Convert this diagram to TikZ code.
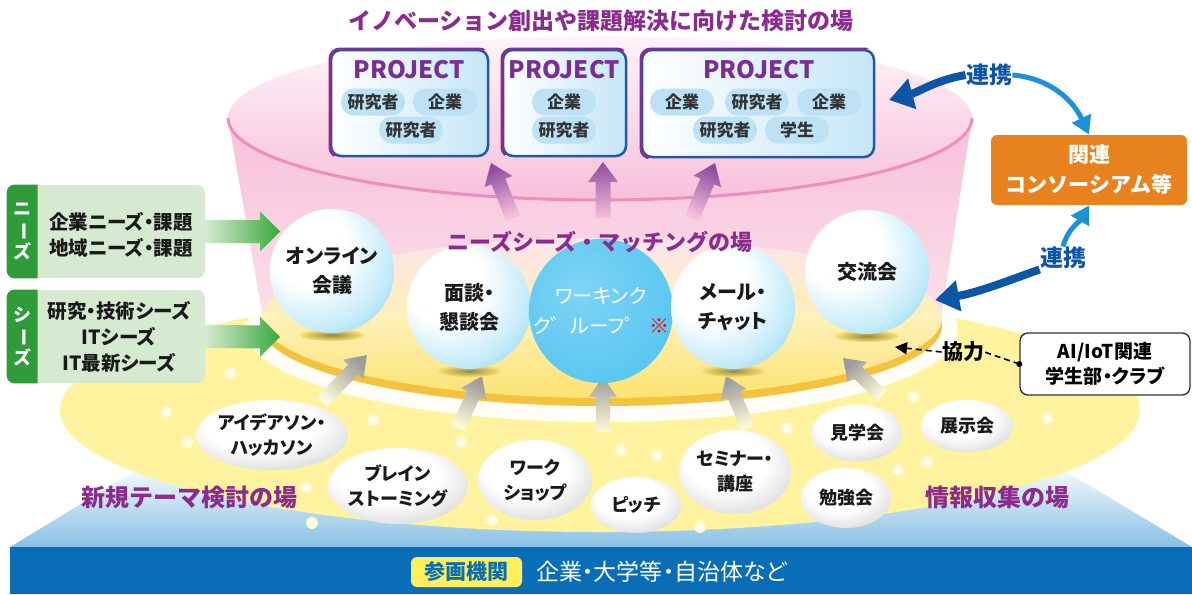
\documentclass[tikz,border=0pt]{standalone}
\usepackage{fontspec}
\usepackage{graphicx}
\setmainfont{Noto Sans CJK JP}
\newfontfamily\jpp{Noto Sans CJK JP}[RawFeature=+palt]
\usetikzlibrary{calc,arrows.meta,shapes.geometric}

\definecolor{ttlpurple}{HTML}{8A2B8D}
\definecolor{projpurple}{HTML}{8E2A8E}
\definecolor{projblue}{HTML}{1F5AA6}
\definecolor{projfill}{HTML}{C6E6F8}
\definecolor{projtxt}{HTML}{7A2E95}
\definecolor{pillfill}{HTML}{BDE2F6}
\definecolor{txtgray}{HTML}{333333}
\definecolor{pinkA}{HTML}{F7C0DA}
\definecolor{pinkTop}{HTML}{FFF4F9}
\definecolor{coneB}{HTML}{FBE0EA}
\definecolor{pinkrim}{HTML}{EE8EBD}
\definecolor{diskrim}{HTML}{F3C33E}
\definecolor{diskA}{HTML}{FBE4EC}
\definecolor{diskB}{HTML}{FDE372}
\definecolor{glowY}{HTML}{FFF3A0}
\definecolor{glowY2}{HTML}{FFFAD6}
\definecolor{ballmid}{HTML}{C4EBFA}
\definecolor{ballrim}{HTML}{4FC1EE}
\definecolor{balldeep}{HTML}{36B3EA}
\definecolor{wgblue}{HTML}{5BC7F1}
\definecolor{wglight}{HTML}{7FD4F5}
\definecolor{bubgrayA}{HTML}{D4D4D4}
\definecolor{bubgrayB}{HTML}{A2A2A2}
\definecolor{greenD}{HTML}{2F9B3B}
\definecolor{greenL}{HTML}{D5EAD0}
\definecolor{greenA}{HTML}{38A83A}
\definecolor{orangeC}{HTML}{E8821E}
\definecolor{blueD}{HTML}{0D55A6}
\definecolor{blueL}{HTML}{1B92D8}
\definecolor{bandblue}{HTML}{0A6DB8}
\definecolor{platblue}{HTML}{88C0E4}
\definecolor{labelY}{HTML}{FFEF5C}
\definecolor{arrowpurple}{HTML}{8E4B9F}
\definecolor{arrowgray}{HTML}{9C9C9C}

\pgfdeclareradialshading{sphereshade}{\pgfpoint{-13bp}{13bp}}{color(0bp)=(white); color(16bp)=(white); color(31bp)=(ballmid); color(48bp)=(ballrim); color(64bp)=(balldeep); color(70bp)=(balldeep)}
\pgfdeclareradialshading{bubbleshade}{\pgfpoint{-5bp}{9bp}}{color(0bp)=(white); color(18bp)=(white); color(36bp)=(bubgrayA); color(54bp)=(bubgrayB); color(70bp)=(bubgrayB)}
\pgfdeclareradialshading{wgshade}{\pgfpoint{-8bp}{8bp}}{color(0bp)=(wglight); color(30bp)=(wgblue); color(70bp)=(wgblue)}
\pgfdeclareradialshading{glowshade}{\pgfpoint{0bp}{0bp}}{color(0bp)=(glowY); color(36bp)=(glowY); color(50bp)=(glowY2)}

\newcommand{\blockarr}[8]{%
  \coordinate (bah) at ($(#2)!#7!(#1)$);
  \shade[top color=#3, bottom color=#4, shading angle=#8]
    ($(#1)!#5!90:(#2)$) -- ($(bah)!#5!-90:(#1)$) -- ($(bah)!#6!-90:(#1)$) -- (#2)
    -- ($(bah)!#6!90:(#1)$) -- ($(bah)!#5!90:(#1)$) -- ($(#1)!#5!-90:(#2)$) -- cycle;
}
\newcommand{\twotone}[1]{%
  \begin{scope}
    \clip ($(#1.north west)+(-8,-8)$) -- ($(#1.north east)+(8,-8)$) -- ($(#1.south west)+(-8,8)$) -- cycle;
    \draw[projpurple, line width=1.25pt, rounded corners=5pt] (#1.south west) rectangle (#1.north east);
  \end{scope}
}

\begin{document}
\begin{tikzpicture}[x=0.5pt,y=-0.5pt,
  every node/.style={inner sep=0pt},
  projbox/.style={draw=projblue, line width=1.25pt, rounded corners=5pt, left color=white, right color=projfill},
  projtitle/.style={text=projtxt, font=\bfseries\fontsize{12}{14}\selectfont},
  pill/.style={fill=pillfill, rounded corners=6.5pt, minimum width=32pt, minimum height=13.5pt, text=txtgray, font=\bfseries\fontsize{8.5}{10}\selectfont},
  ball/.style={circle, minimum size=62pt, shade, shading=sphereshade, align=center, text=black!90, font=\jpp\bfseries\fontsize{10}{14.5}\selectfont},
  bubble/.style={ellipse, shade, shading=bubbleshade, align=center, text=black!90, font=\jpp\bfseries\fontsize{9}{12.5}\selectfont},
  greenbox/.style={fill=greenL, rounded corners=4pt, minimum width=99pt, minimum height=46.5pt},
  greentxt/.style={align=center, text=black!90, font=\jpp\bfseries\fontsize{9.75}{13}\selectfont},
  tabtxt/.style={align=center, text=white, font=\bfseries\fontsize{9}{10}\selectfont},
  purplelabel/.style={text=ttlpurple, font=\bfseries\fontsize{12}{14}\selectfont},
  lianlabel/.style={text=blueD, font=\bfseries\fontsize{11.5}{13}\selectfont},
  shadowst/.style={inner color=black!40!diskB, outer color=diskB}
]
\useasboundingbox (0,0) rectangle (1192,594);

% platform and band
\shade[top color=white, bottom color=platblue] (10,547) -- (150,462) -- (1050,462) -- (1192,547) -- cycle;
\fill[bandblue] (10,547) rectangle (1192,594);

% big glow ellipse
\shade[shading=glowshade] (600,410) ellipse [x radius=540, y radius=122];

% sparkles
\foreach \p in {(166,412),(187,442),(373,420),(461,442),(306,487),(492,520),(312,523),(621,450),(657,455),(787,428),(913,397),(1047,418),(898,470),(927,462),(700,527),(230,373)}
  \shade[inner color=white, outer color=glowY!60!white] \p circle (6);

% white glow under disc
\fill[white, opacity=.9] (602,330) ellipse [x radius=356, y radius=92];

% pink cone
\shade[top color=pinkA, bottom color=coneB] (228,118) -- (263,318) -- (941,318) -- (972,118) -- cycle;
\shade[top color=pinkTop, bottom color=pinkA] (600,118) ellipse [x radius=372, y radius=82];
\draw[pinkrim, line width=1.5pt] (972,118) arc[start angle=0, end angle=180, x radius=372, y radius=82];

% title
\node[text=ttlpurple, font=\bfseries\fontsize{11.5}{14}\selectfont] (title) at (601,21) {イノベーション創出や課題解決に向けた検討の場};

% project boxes
\node[projbox, minimum width=78.5pt, minimum height=53pt] (p1) at (409.5,103) {};
\twotone{p1}
\node[projtitle] (p1t) at (409.5,70) {PROJECT};
\node[pill] (p1a) at (373,102) {研究者};
\node[pill] (p1b) at (445,102) {企業};
\node[pill] (p1c) at (411,130) {研究者};

\node[projbox, minimum width=61.5pt, minimum height=53pt] (p2) at (564.5,103) {};
\twotone{p2}
\node[projtitle] (p2t) at (564.5,70) {PROJECT};
\node[pill] (p2a) at (564,102) {企業};
\node[pill] (p2b) at (564,130) {研究者};

\node[projbox, minimum width=116pt, minimum height=53.5pt] (p3) at (758,103.5) {};
\twotone{p3}
\node[projtitle] (p3t) at (759,70) {PROJECT};
\node[pill] (p3a) at (682,102) {企業};
\node[pill] (p3b) at (757,102) {研究者};
\node[pill] (p3c) at (829,102) {企業};
\node[pill] (p3d) at (725,130) {研究者};
\node[pill] (p3e) at (797,130) {学生};

% purple arrows
\coordinate (pa1) at (513,218); \coordinate (pb1) at (491,163);
\coordinate (pa2) at (603,218); \coordinate (pb2) at (603,162);
\coordinate (pa3) at (692,218); \coordinate (pb3) at (715,163);
\blockarr{pa1}{pb1}{arrowpurple}{pinkA}{3.75pt}{7.5pt}{10pt}{24}
\blockarr{pa2}{pb2}{arrowpurple}{pinkA}{3.75pt}{7.5pt}{10pt}{0}
\blockarr{pa3}{pb3}{arrowpurple}{pinkA}{3.75pt}{7.5pt}{10pt}{-24}

% disc
\fill[diskrim] (602,326) ellipse [x radius=340, y radius=80];
\shade[top color=diskA, bottom color=diskB, middle color=diskB!50!white] (602,318) ellipse [x radius=340, y radius=80];

% gray arrows
\coordinate (g1a) at (322,402); \coordinate (g1b) at (367,355);
\coordinate (g2a) at (458,428); \coordinate (g2b) at (482,376);
\coordinate (g3a) at (603,432); \coordinate (g3b) at (603,377);
\coordinate (g4a) at (748,428); \coordinate (g4b) at (726,376);
\coordinate (g5a) at (882,396); \coordinate (g5b) at (843,358);
\blockarr{g1a}{g1b}{arrowgray}{glowY!40!white}{3.5pt}{7pt}{10pt}{-44}
\blockarr{g2a}{g2b}{arrowgray}{glowY!40!white}{3.5pt}{7pt}{10pt}{-24}
\blockarr{g3a}{g3b}{arrowgray}{glowY!40!white}{3.5pt}{7pt}{10pt}{0}
\blockarr{g4a}{g4b}{arrowgray}{glowY!40!white}{3.5pt}{7pt}{10pt}{22}
\blockarr{g5a}{g5b}{arrowgray}{glowY!40!white}{3.5pt}{7pt}{10pt}{46}

% bubbles
\node[bubble, minimum width=69pt, minimum height=35pt] (idea) at (272,435) {アイデアソン・\\ハッカソン};
\node[bubble, minimum width=69pt, minimum height=38pt] (brain) at (398,486) {ブレイン\\ストーミング};
\node[bubble, minimum width=57pt, minimum height=40pt] (work) at (535,480) {ワーク\\ショップ};
\node[bubble, minimum width=45pt, minimum height=28pt] (pitch) at (636,505) {ピッチ};
\node[bubble, minimum width=56pt, minimum height=42pt] (semi) at (735,472) {セミナー・\\講座};
\node[bubble, minimum width=45pt, minimum height=28.5pt] (kengaku) at (857,433) {見学会};
\node[bubble, minimum width=46pt, minimum height=26pt] (tenji) at (967,426) {展示会};
\node[bubble, minimum width=45pt, minimum height=30pt] (benkyo) at (846,498) {勉強会};

% ball shadows
\foreach \cx/\cy in {332/271, 469/307, 601/311, 733/307, 867/272}
  \shade[shadowst] (\cx,\cy+64) ellipse [x radius=32, y radius=6];

% balls
\node[ball] (online) at (332,271) {オンライン\\会議};
\node[ball] (mendan) at (469,307) {面談・\\懇談会};
\node[circle, minimum size=62pt, shade, shading=wgshade, align=center, text=white, font=\jpp\fontsize{10}{15}\selectfont] (wg) at (601,311) {ワーキンク\\ク゛ルーフ゜ {\color{red}※}};
\node[ball] (mail) at (733,307) {メール・\\チャット};
\node[ball] (koryu) at (867,272) {交流会};

\node[text=ttlpurple, font=\bfseries\fontsize{11}{13}\selectfont] (match) at (600,242) {ニーズシーズ・マッチングの場};

% green boxes
\node[greenbox] (needs) at (106,231.5) {};
\fill[greenD] ($(needs.north west)+(31,0)$) {[rounded corners=4pt] -- (needs.north west) -- (needs.south west)} -- ($(needs.south west)+(31,0)$) -- cycle;
\node[tabtxt] (needstab) at ($(needs.west)+(15.5,0)$) {ニ\\\rotatebox[origin=c]{-90}{ー}\\ズ};
\node[greentxt] (needstxt) at (121,235) {企業ニーズ・課題\\地域ニーズ・課題};

\node[greenbox] (seeds) at (106,336.5) {};
\fill[greenD] ($(seeds.north west)+(31,0)$) {[rounded corners=4pt] -- (seeds.north west) -- (seeds.south west)} -- ($(seeds.south west)+(31,0)$) -- cycle;
\node[tabtxt] (seedstab) at ($(seeds.west)+(15.5,0)$) {シ\\\rotatebox[origin=c]{-90}{ー}\\ズ};
\node[greentxt] (seedstxt) at (119,336.5) {研究・技術シーズ\\ITシーズ\\IT最新シーズ};

\coordinate (gn) at (280,231.5);
\coordinate (gs) at (280,337);
\blockarr{needs.east}{gn}{greenA}{greenL}{5.75pt}{10pt}{10pt}{-90}
\blockarr{seeds.east}{gs}{greenA}{greenL}{5.75pt}{10pt}{10pt}{-90}

% consortium
\node[fill=orangeC, rounded corners=3pt, minimum width=98pt, minimum height=35pt, text=white, font=\bfseries\fontsize{10.5}{15}\selectfont, align=center] (cons) at (1089,170) {関連\\コンソーシアム等};

\node[lianlabel] (lian1) at (989,75) {連携};
\coordinate (tipA) at (889,100);
\draw[blueD, line width=4pt, -{Triangle[length=12pt,width=15pt]}] (lian1.west) to[out=190, in=15] (tipA);
\draw[blueL, line width=2.5pt, -{Triangle[length=9pt,width=10pt]}] (lian1.east) to[out=-5, in=115] (cons.north);

\node[lianlabel] (lian2) at (1063,258) {連携};
\coordinate (tipB) at (935,300);
\draw[blueL, line width=2.5pt, -{Triangle[length=9pt,width=10pt]}] (lian2.north) to[out=75, in=-120] (cons.south);
\draw[blueD, line width=4pt, -{Triangle[length=12pt,width=15pt]}] (lian2.south west) to[out=200, in=10] (tipB);

% AI/IoT box and cooperation
\node[draw=black!80, line width=0.7pt, rounded corners=4pt, fill=white, minimum width=85pt, minimum height=31pt, align=center, font=\jpp\bfseries\fontsize{9.5}{12.5}\selectfont] (ai) at (1105,364) {AI/IoT関連\\学生部・クラブ};
\node[font=\bfseries\fontsize{10.5}{12}\selectfont] (kyo) at (963,352) {協力};
\coordinate (tipC) at (895,347);
\draw[densely dashed, line width=0.8pt] (ai.west) -- (kyo.east);
\fill (ai.west) circle (3);
\draw[densely dashed, line width=0.8pt, -{Triangle[length=6pt,width=6pt]}] (kyo.west) -- (tipC);

% bottom labels
\node[purplelabel] (newtheme) at (189,497) {新規テーマ検討の場};
\node[purplelabel] (info) at (997,497) {情報収集の場};
\node[fill=labelY, rounded corners=3pt, minimum width=55.5pt, minimum height=15pt, text=bandblue, font=\bfseries\fontsize{10.5}{12}\selectfont] (sankaku) at (466.5,572) {参画機関};
\node[anchor=west, text=white, font=\jpp\fontsize{11.5}{13}\selectfont] (members) at (536,572) {企業・大学等・自治体など};
\end{tikzpicture}
\end{document}
